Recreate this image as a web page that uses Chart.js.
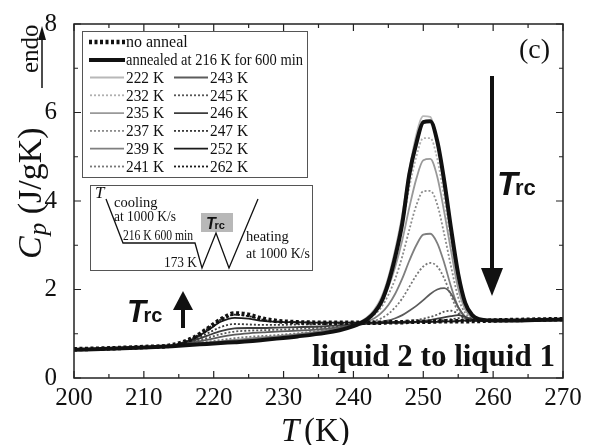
<!DOCTYPE html>
<html>
<head>
<meta charset="utf-8">
<script src="https://cdn.jsdelivr.net/npm/chart.js@4.4.1/dist/chart.umd.min.js"></script>
<style>
  html, body { margin: 0; padding: 0; background: #fff; }
  #wrap { width: 590px; height: 445px; }
</style>
</head>
<body>
<div id="wrap"><canvas id="cpChart" width="590" height="445"></canvas></div>
<script>
// temperature grid (K)
const temps = [200, 205, 210, 214, 217, 219, 221, 223, 225, 227, 229, 232, 236, 238, 240,
  241, 242, 243, 244, 245, 246, 247, 248, 249, 250, 251, 252, 253, 254, 255, 256, 257, 258,
  260, 263, 266, 270];

const xTicks = [200, 210, 220, 230, 240, 250, 260, 270];
const yTicks = [0, 2, 4, 6, 8];

// Cp (J/gK)
const noAnneal = [0.65, 0.67, 0.70, 0.74, 0.90, 1.10, 1.32, 1.46, 1.43, 1.34, 1.29,
  1.26, 1.25, 1.25, 1.25,
  1.25, 1.25, 1.25, 1.25, 1.26, 1.26, 1.26, 1.27, 1.27, 1.27,
  1.27, 1.28, 1.28, 1.28, 1.28, 1.28, 1.29, 1.29,
  1.30, 1.31, 1.32, 1.33];
const annealed = [0.64, 0.66, 0.69, 0.72, 0.75, 0.77, 0.79, 0.81, 0.83, 0.86, 0.89,
  0.94, 1.02, 1.08, 1.17,
  1.24, 1.33, 1.48, 1.72, 2.15, 2.75, 3.50, 4.60, 5.30, 5.78,
  5.80, 5.35, 4.45, 3.35, 2.35, 1.70, 1.42, 1.33,
  1.30, 1.30, 1.31, 1.32];
const k222 = [0.64, 0.66, 0.69, 0.72, 0.76, 0.78, 0.80, 0.82, 0.84, 0.87, 0.90,
  0.95, 1.03, 1.10, 1.19,
  1.27, 1.38, 1.55, 1.82, 2.28, 2.92, 3.70, 4.70, 5.50, 5.92,
  5.90, 5.30, 4.30, 3.15, 2.15, 1.58, 1.37, 1.31,
  1.30, 1.30, 1.31, 1.32];
const k232 = [0.64, 0.66, 0.69, 0.72, 0.76, 0.78, 0.80, 0.83, 0.85, 0.88, 0.90,
  0.96, 1.04, 1.11, 1.20,
  1.27, 1.37, 1.52, 1.77, 2.18, 2.75, 3.45, 4.30, 5.00, 5.42,
  5.42, 4.95, 4.05, 3.00, 2.10, 1.58, 1.37, 1.31,
  1.30, 1.30, 1.31, 1.32];
const k235 = [0.64, 0.66, 0.69, 0.72, 0.76, 0.79, 0.81, 0.84, 0.86, 0.89, 0.91,
  0.97, 1.05, 1.11, 1.20,
  1.26, 1.35, 1.48, 1.70, 2.05, 2.52, 3.12, 3.85, 4.50, 4.92,
  4.95, 4.55, 3.75, 2.85, 2.02, 1.55, 1.36, 1.31,
  1.30, 1.30, 1.31, 1.32];
const k237 = [0.64, 0.66, 0.69, 0.72, 0.77, 0.79, 0.82, 0.85, 0.87, 0.90, 0.92,
  0.98, 1.06, 1.12, 1.20,
  1.25, 1.32, 1.43, 1.60, 1.88, 2.25, 2.75, 3.35, 3.90, 4.22,
  4.23, 3.92, 3.25, 2.50, 1.82, 1.47, 1.34, 1.30,
  1.30, 1.30, 1.31, 1.32];
const k239 = [0.64, 0.66, 0.69, 0.72, 0.77, 0.80, 0.83, 0.86, 0.89, 0.92, 0.94,
  0.99, 1.07, 1.12, 1.19,
  1.23, 1.28, 1.35, 1.47, 1.65, 1.91, 2.25, 2.65, 3.00, 3.24,
  3.26, 3.05, 2.60, 2.05, 1.60, 1.38, 1.31, 1.29,
  1.30, 1.30, 1.31, 1.32];
const k241 = [0.64, 0.66, 0.69, 0.72, 0.78, 0.82, 0.86, 0.90, 0.93, 0.95, 0.97,
  1.01, 1.08, 1.13, 1.19,
  1.22, 1.25, 1.29, 1.35, 1.45, 1.60, 1.80, 2.06, 2.32, 2.52,
  2.60, 2.52, 2.25, 1.85, 1.50, 1.35, 1.30, 1.29,
  1.30, 1.30, 1.31, 1.32];
const k243 = [0.64, 0.66, 0.69, 0.72, 0.80, 0.86, 0.93, 0.98, 1.01, 1.03, 1.05,
  1.07, 1.11, 1.15, 1.19,
  1.21, 1.23, 1.25, 1.27, 1.30, 1.35, 1.42, 1.52, 1.63, 1.76,
  1.90, 2.00, 2.03, 1.90, 1.60, 1.38, 1.30, 1.29,
  1.30, 1.30, 1.31, 1.32];
const k245 = [0.64, 0.66, 0.69, 0.73, 0.82, 0.90, 0.99, 1.05, 1.07, 1.08, 1.09,
  1.11, 1.14, 1.16, 1.19,
  1.21, 1.22, 1.23, 1.24, 1.25, 1.26, 1.27, 1.29, 1.31, 1.34,
  1.38, 1.43, 1.50, 1.52, 1.45, 1.35, 1.30, 1.29,
  1.30, 1.30, 1.31, 1.32];
const k246 = [0.64, 0.66, 0.69, 0.73, 0.84, 0.95, 1.06, 1.12, 1.13, 1.13, 1.14,
  1.15, 1.17, 1.19, 1.21,
  1.22, 1.23, 1.23, 1.24, 1.24, 1.25, 1.25, 1.26, 1.27, 1.29,
  1.31, 1.34, 1.37, 1.40, 1.42, 1.38, 1.32, 1.29,
  1.30, 1.30, 1.31, 1.32];
const k247 = [0.64, 0.66, 0.69, 0.73, 0.86, 1.00, 1.15, 1.22, 1.21, 1.20, 1.20,
  1.21, 1.22, 1.23, 1.23,
  1.24, 1.24, 1.24, 1.25, 1.25, 1.25, 1.26, 1.26, 1.26, 1.27,
  1.28, 1.29, 1.31, 1.33, 1.35, 1.36, 1.34, 1.30,
  1.30, 1.30, 1.31, 1.32];
const k252 = [0.64, 0.66, 0.69, 0.73, 0.88, 1.06, 1.27, 1.36, 1.34, 1.29, 1.27,
  1.26, 1.25, 1.25, 1.25,
  1.25, 1.25, 1.25, 1.25, 1.26, 1.26, 1.26, 1.26, 1.27, 1.27,
  1.27, 1.27, 1.28, 1.28, 1.29, 1.30, 1.30, 1.30,
  1.30, 1.30, 1.31, 1.32];
const k262 = [0.64, 0.66, 0.69, 0.73, 0.90, 1.10, 1.32, 1.43, 1.40, 1.32, 1.28,
  1.26, 1.25, 1.25, 1.25,
  1.25, 1.25, 1.25, 1.25, 1.26, 1.26, 1.26, 1.27, 1.27, 1.27,
  1.27, 1.28, 1.28, 1.28, 1.28, 1.29, 1.29, 1.30,
  1.30, 1.30, 1.31, 1.32];

const SERIF = '"Liberation Serif", "Times New Roman", serif';
const SANS = '"Liberation Sans", Arial, sans-serif';

const pts = arr => arr.map((v, i) => ({ x: temps[i], y: v }));
const DOT = [2, 2];

function series(label, values, color, width, dash) {
  return {
    label: label,
    data: pts(values),
    borderColor: color,
    borderWidth: width,
    borderDash: dash || [],
    pointRadius: 0,
    fill: false,
    cubicInterpolationMode: 'monotone'
  };
}

// index 0 is painted last (on top)
const datasets = [
  series('no anneal', noAnneal, '#111', 4.5, [3, 2.5]),
  series('annealed at 216 K for 600 min', annealed, '#111', 4),
  series('262 K', k262, '#1a1a1a', 1.8, DOT),
  series('252 K', k252, '#1a1a1a', 1.8),
  series('247 K', k247, '#3a3a3a', 1.8, DOT),
  series('246 K', k246, '#3c3c3c', 1.8),
  series('245 K', k245, '#555', 1.8, DOT),
  series('243 K', k243, '#5c5c5c', 1.8),
  series('241 K', k241, '#777', 1.8, DOT),
  series('239 K', k239, '#7f7f7f', 1.8),
  series('237 K', k237, '#8c8c8c', 1.8, DOT),
  series('235 K', k235, '#999', 1.8),
  series('232 K', k232, '#b0b0b0', 1.8, DOT),
  series('222 K', k222, '#b8b8b8', 1.8)
];

const col1 = ['222 K', '232 K', '235 K', '237 K', '239 K', '241 K'];
const col2 = ['243 K', '245 K', '246 K', '247 K', '252 K', '262 K'];

function sample(ctx, ds, x1, x2, y) {
  ctx.save();
  ctx.strokeStyle = ds.borderColor;
  ctx.lineWidth = ds.borderWidth;
  ctx.setLineDash(ds.borderDash);
  ctx.beginPath(); ctx.moveTo(x1, y); ctx.lineTo(x2, y); ctx.stroke();
  ctx.restore();
}

function arrow(ctx, x, yTail, yTip, half, head, lw) {
  const dir = yTip > yTail ? 1 : -1;
  ctx.lineWidth = lw;
  ctx.beginPath(); ctx.moveTo(x, yTail); ctx.lineTo(x, yTip - dir * head * 0.8); ctx.stroke();
  ctx.beginPath();
  ctx.moveTo(x, yTip);
  ctx.lineTo(x - half, yTip - dir * head);
  ctx.lineTo(x + half, yTip - dir * head);
  ctx.closePath(); ctx.fill();
}

function trc(ctx, x, base, big, small) {
  ctx.font = 'italic bold ' + big + 'px ' + SANS;
  ctx.fillText('T', x, base);
  const w = ctx.measureText('T').width;
  ctx.font = 'bold ' + small + 'px ' + SANS;
  ctx.fillText('rc', x + w - big * 0.08, base);
}

const paper = {
  id: 'paper',
  beforeDraw(chart) {
    const ctx = chart.ctx;
    ctx.save(); ctx.fillStyle = '#fff'; ctx.fillRect(0, 0, chart.width, chart.height); ctx.restore();
  },
  afterDatasetsDraw(chart) {
    const { ctx, chartArea: a, scales: { x, y } } = chart;
    const byLabel = {};
    chart.data.datasets.forEach(d => { byLabel[d.label] = d; });
    ctx.save();
    ctx.fillStyle = '#111';
    ctx.strokeStyle = '#222';

    // frame + inward ticks
    ctx.lineWidth = 1.5;
    ctx.strokeRect(a.left, a.top, a.right - a.left, a.bottom - a.top);
    ctx.lineWidth = 1.2;
    for (let t = 200; t <= 270; t += 5) {
      const px = x.getPixelForValue(t), len = t % 10 === 0 ? 7 : 4;
      ctx.beginPath();
      ctx.moveTo(px, a.bottom); ctx.lineTo(px, a.bottom - len);
      ctx.moveTo(px, a.top); ctx.lineTo(px, a.top + len);
      ctx.stroke();
    }
    for (let v = 0; v <= 8; v += 1) {
      const py = y.getPixelForValue(v), len = v % 2 === 0 ? 7 : 4;
      ctx.beginPath();
      ctx.moveTo(a.left, py); ctx.lineTo(a.left + len, py);
      ctx.moveTo(a.right, py); ctx.lineTo(a.right - len, py);
      ctx.stroke();
    }

    // legend box
    ctx.fillStyle = '#fff';
    ctx.fillRect(82, 31, 225, 146);
    ctx.strokeStyle = '#555'; ctx.lineWidth = 1;
    ctx.strokeRect(82.5, 31.5, 225, 146);
    ctx.fillStyle = '#111';
    ctx.font = '16px ' + SERIF;
    ctx.textBaseline = 'middle';
    sample(ctx, byLabel['no anneal'], 89, 125, 42);
    ctx.fillText('no anneal', 126, 43, 70);
    sample(ctx, byLabel['annealed at 216 K for 600 min'], 89, 125, 60);
    ctx.fillText('annealed at 216 K for 600 min', 126, 61, 177);
    for (let i = 0; i < 6; i++) {
      const ry = 77.5 + i * 17.8;
      sample(ctx, byLabel[col1[i]], 90, 124, ry);
      ctx.fillText(col1[i], 126, ry + 1, 38);
      sample(ctx, byLabel[col2[i]], 174, 208, ry);
      ctx.fillText(col2[i], 210, ry + 1, 38);
    }

    // inset: thermal protocol
    ctx.textBaseline = 'alphabetic';
    ctx.fillStyle = '#fff';
    ctx.fillRect(90, 185, 222, 85);
    ctx.strokeStyle = '#555';
    ctx.strokeRect(90.5, 185.5, 222, 85);
    ctx.fillStyle = '#b8b8b8';
    ctx.fillRect(201, 213, 32, 19);
    ctx.strokeStyle = '#111'; ctx.lineWidth = 1.3;
    ctx.beginPath();
    ctx.moveTo(106, 199); ctx.lineTo(123, 243); ctx.lineTo(195, 243); ctx.lineTo(202, 268);
    ctx.lineTo(216, 233); ctx.lineTo(229, 268); ctx.lineTo(258, 199);
    ctx.stroke();
    ctx.fillStyle = '#111';
    ctx.font = 'italic 17px ' + SERIF;
    ctx.fillText('T', 95, 198);
    ctx.font = '14.5px ' + SERIF;
    ctx.fillText('cooling', 114, 207);
    ctx.fillText('at 1000 K/s', 114, 221, 62);
    ctx.fillText('216 K 600 min', 123, 240, 70);
    ctx.fillText('173 K', 164, 267, 33);
    ctx.fillText('heating', 246, 241);
    ctx.fillText('at 1000 K/s', 246, 258, 64);
    trc(ctx, 206, 229, 16, 11);

    // (c)
    ctx.font = '28px ' + SERIF;
    ctx.fillText('(c)', 519, 58);

    // arrows and Trc labels
    ctx.strokeStyle = '#111';
    arrow(ctx, 492, 76, 296, 11, 28, 4);
    trc(ctx, 497, 195, 34, 22);
    arrow(ctx, 183, 328, 291, 10, 19, 4);
    trc(ctx, 127, 322, 31, 20);

    // liquid 2 to liquid 1
    ctx.font = 'bold 31px ' + SERIF;
    ctx.fillText('liquid 2 to liquid 1', 312, 366, 248);

    // x axis title
    ctx.font = 'italic 33px ' + SERIF;
    ctx.fillText('T', 281, 441);
    ctx.font = '33px ' + SERIF;
    ctx.fillText('(K)', 304, 441);

    // y axis title, rotated
    ctx.save();
    ctx.translate(41, 259);
    ctx.rotate(-Math.PI / 2);
    ctx.font = 'italic 34px ' + SERIF;
    ctx.fillText('C', 0, 0);
    let w = ctx.measureText('C').width;
    ctx.font = 'italic 25px ' + SERIF;
    ctx.fillText('p', w + 1, 5);
    w += ctx.measureText('p').width + 1;
    ctx.font = '34px ' + SERIF;
    ctx.fillText(' (J/gK)', w, 0);
    ctx.restore();

    // endo with arrow
    ctx.save();
    ctx.translate(38, 73);
    ctx.rotate(-Math.PI / 2);
    ctx.font = '25px ' + SERIF;
    ctx.fillText('endo', 0, 0, 50);
    ctx.restore();
    ctx.lineWidth = 1.5;
    ctx.beginPath(); ctx.moveTo(42, 88); ctx.lineTo(42, 36); ctx.stroke();
    ctx.beginPath(); ctx.moveTo(42, 26); ctx.lineTo(38, 40); ctx.lineTo(46, 40); ctx.closePath(); ctx.fill();

    ctx.restore();
  }
};

new Chart(document.getElementById('cpChart').getContext('2d'), {
  type: 'line',
  data: { datasets: datasets },
  options: {
    responsive: false,
    animation: false,
    layout: { padding: { top: 20, right: 27, left: 0, bottom: 0 } },
    plugins: { legend: { display: false }, tooltip: { enabled: false } },
    scales: {
      x: {
        type: 'linear', min: 200, max: 270,
        afterBuildTicks: s => { s.ticks = xTicks.map(v => ({ value: v })); },
        afterFit: s => { s.height = 67; },
        ticks: { font: { family: SERIF, size: 25 }, color: '#111', padding: -3, maxRotation: 0 },
        grid: { display: false },
        border: { display: false }
      },
      y: {
        min: 0, max: 8,
        afterBuildTicks: s => { s.ticks = yTicks.map(v => ({ value: v })); },
        afterFit: s => { s.width = 74; },
        ticks: { font: { family: SERIF, size: 25 }, color: '#111', padding: 9 },
        grid: { display: false },
        border: { display: false }
      }
    }
  },
  plugins: [paper]
});
</script>
</body>
</html>
